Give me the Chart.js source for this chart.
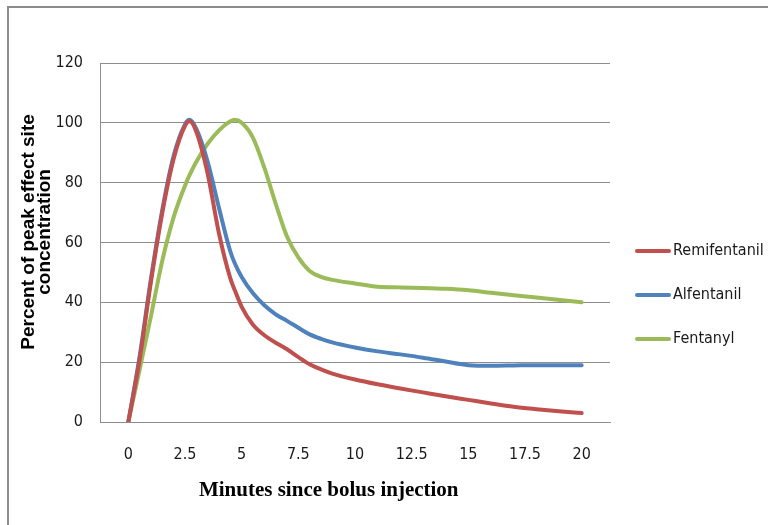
<!DOCTYPE html>
<html><head><meta charset="utf-8">
<script src="https://cdn.jsdelivr.net/npm/chart.js@4/dist/chart.umd.min.js"></script>
<style>
html,body{margin:0;padding:0;background:#fff;}
#wrap{position:relative;width:768px;height:525px;overflow:hidden;background:#fff;}
#frame{position:absolute;left:7px;top:6px;width:800px;height:600px;border-left:2px solid #8c8c8c;border-top:2px solid #8c8c8c;}
#c{position:absolute;left:0;top:0;}
</style></head><body>
<div id="wrap"><div id="frame"></div><canvas id="c" width="768" height="525"></canvas></div>
<script>
const minutes      = [0, 0.5, 1, 1.5, 2, 2.5, 2.7, 3, 3.5, 4, 4.5, 4.7, 5, 5.5, 6, 6.5, 7, 7.5, 8, 8.5, 9, 10, 11, 12, 13, 14, 15, 16, 17, 18, 19, 20];
const remifentanil = [0, 21, 47, 70, 88, 99, 100.5, 97, 83, 63, 48, 44, 38.5, 32.5, 29, 26.5, 24.3, 21.7, 19.3, 17.6, 16.2, 14.2, 12.6, 11.2, 9.9, 8.6, 7.4, 6.2, 5.1, 4.3, 3.6, 3];
const alfentanil   = [0, 22, 48, 71, 89, 99.5, 101, 98, 87, 71.5, 57, 53, 48.5, 43, 39, 36, 33.8, 31.5, 29.3, 27.8, 26.6, 24.9, 23.6, 22.6, 21.5, 20.2, 19, 18.8, 18.9, 19, 19, 19];
const fentanyl     = [0, 17.5, 35.5, 54, 68.5, 79, 82.5, 87, 93, 97.5, 100.5, 101, 100, 95, 85, 73, 62, 55, 50.5, 48.5, 47.5, 46.3, 45.2, 45, 44.8, 44.5, 44, 43.2, 42.4, 41.6, 40.8, 40];
const seriesNames  = ['Remifentanil', 'Alfentanil', 'Fentanyl'];
const seriesColors = ['#C0504D', '#4F81BD', '#9BBB59'];
const xTickValues  = [0, 2.5, 5, 7.5, 10, 12.5, 15, 17.5, 20];
const yTickStep    = 20;
const xTitle = 'Minutes since bolus injection';
const yTitle = ['Percent of peak effect site', 'concentration'];

const narrow = "'Liberation Sans Narrow','DejaVu Sans Condensed','Liberation Sans',sans-serif";
const seriesValues = [remifentanil, alfentanil, fentanyl];

const datasets = seriesValues.map((vals, i) => ({
  label: seriesNames[i],
  data: minutes.map((m, j) => ({x: m, y: vals[j]})),
  borderColor: seriesColors[i],
  backgroundColor: seriesColors[i],
  borderWidth: 4,
  pointRadius: 0,
  fill: false,
  cubicInterpolationMode: 'monotone',
  borderCapStyle: 'round'
}));

const sideLegend = {
  id: 'sideLegend',
  afterDraw(chart) {
    const ctx = chart.ctx;
    const ys = [251, 295, 339];
    chart.data.datasets.forEach((ds, i) => {
      ctx.save();
      ctx.strokeStyle = ds.borderColor;
      ctx.lineWidth = 4;
      ctx.lineCap = 'round';
      ctx.beginPath();
      ctx.moveTo(637, ys[i]);
      ctx.lineTo(669, ys[i]);
      ctx.stroke();
      ctx.fillStyle = '#1a1a1a';
      ctx.font = "16px " + narrow;
      ctx.textBaseline = 'middle';
      ctx.textAlign = 'left';
      ctx.fillText(ds.label, 673, ys[i]);
      ctx.restore();
    });
  }
};

new Chart(document.getElementById('c'), {
  type: 'line',
  data: { datasets },
  plugins: [sideLegend],
  options: {
    responsive: false,
    animation: false,
    devicePixelRatio: 1,
    layout: { padding: { left: 10, right: 158, top: 63, bottom: 0 } },
    plugins: { legend: { display: false }, tooltip: { enabled: false } },
    scales: {
      x: {
        type: 'linear',
        min: -1.25,
        max: 21.25,
        afterBuildTicks: s => { s.ticks = xTickValues.map(v => ({ value: v })); },
        afterFit: s => { s.height = 103; },
        grid: { display: false, drawTicks: false },
        border: { display: true, color: '#8e8e8e', width: 1 },
        ticks: { padding: 23, color: '#1a1a1a', font: { family: narrow, size: 16 }, callback: v => String(v), maxRotation: 0 },
        title: { display: true, text: xTitle + '          ', color: '#000',
                 font: { family: "'Liberation Serif','Times New Roman',serif", weight: 'bold', size: 21 },
                 padding: { top: 0, bottom: 22 } }
      },
      y: {
        min: 0,
        max: 120,
        afterFit: s => { s.width = 90; },
        grid: { color: '#8e8e8e', lineWidth: 1, drawTicks: false },
        border: { display: true, color: '#8e8e8e', width: 1 },
        ticks: { stepSize: yTickStep, padding: 17, color: '#1a1a1a', font: { family: narrow, size: 16 } },
        title: { display: true, text: yTitle.map(t => '    ' + t), color: '#000',
                 font: { family: "'Liberation Sans',sans-serif", weight: 'bold', size: 19, lineHeight: 0.85 },
                 padding: { top: 11, bottom: 0 } }
      }
    }
  }
});
</script>
</body></html>
